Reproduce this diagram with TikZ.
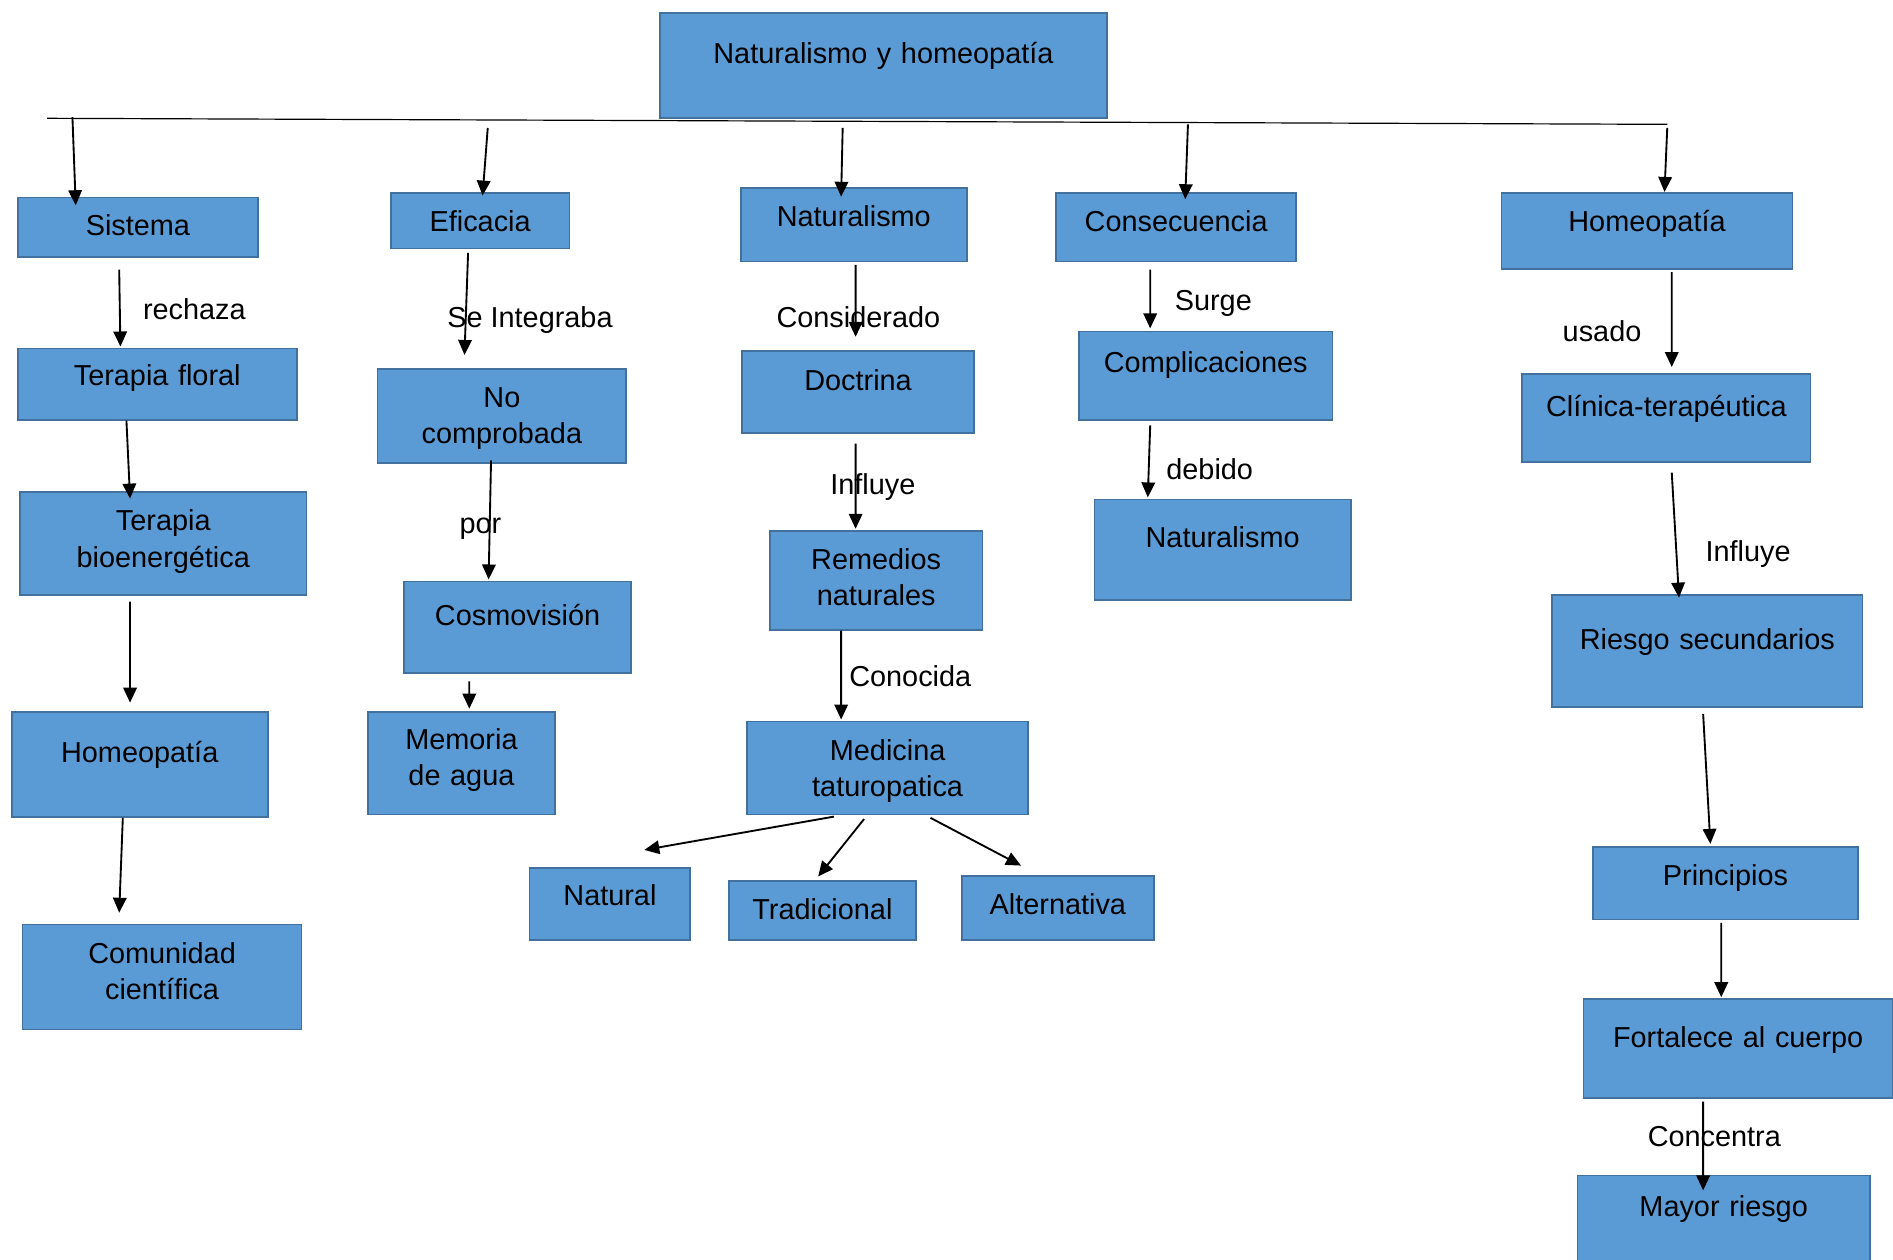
\documentclass[tikz,border=0pt]{standalone}
\usepackage{fontspec}
\setmainfont{Liberation Sans}
\usetikzlibrary{arrows.meta}
\definecolor{boxfill}{HTML}{5B9BD5}
\definecolor{boxline}{HTML}{41719C}

\begin{document}
\begin{tikzpicture}[x=0.025cm,y=-0.025cm,font={\fontsize{17}{21.3}\selectfont}]
    \tikzstyle{box}=[draw=boxline,fill=boxfill,line width=1pt,inner sep=0pt,align=center,anchor=north west]
    \tikzstyle{arr}=[line width=1.1pt,-{Triangle[length=0.31cm,width=0.28cm]}]
    \tikzstyle{lbl}=[anchor=base,inner sep=0pt]
    \useasboundingbox (0,0) rectangle (1568,1043);
    \node[box,text width=9.25cm,text height=1.05cm,text depth=1.125cm] (top) at (546,10) {Naturalismo y homeopatía};
    \node[box,text width=4.975cm,text height=0.775cm,text depth=0.45cm] (sis) at (14,163) {Sistema};
    \node[box,text width=3.7cm,text height=0.8cm,text depth=0.35cm] (efi) at (323,159) {Eficacia};
    \node[box,text width=4.675cm,text height=0.8cm,text depth=0.725cm] (natA) at (613,155) {Naturalismo};
    \node[box,text width=4.975cm,text height=0.8cm,text depth=0.625cm] (cons) at (874,159) {Consecuencia};
    \node[box,text width=6.025cm,text height=0.8cm,text depth=0.775cm] (homR) at (1243,159) {Homeopatía};
    \node[box,text width=5.775cm,text height=0.775cm,text depth=0.7cm] (tf) at (14,288) {Terapia floral};
    \node[box,text width=5.925cm,text height=0.8cm,text depth=1.325cm] (tb) at (16,407) {Terapia\\bioenergética};
    \node[box,text width=5.3cm,text height=1.05cm,text depth=1.125cm] (homL) at (9,589) {Homeopatía};
    \node[box,text width=5.775cm,text height=0.8cm,text depth=1.375cm] (com) at (18,765) {Comunidad\\científica};
    \node[box,text width=5.15cm,text height=0.8cm,text depth=1.15cm] (noc) at (312,305) {No\\comprobada};
    \node[box,text width=4.7cm,text height=0.9cm,text depth=1.0cm] (cosm) at (334,481) {Cosmovisión};
    \node[box,text width=3.875cm,text height=0.775cm,text depth=1.35cm] (mem) at (304,589) {Memoria\\de agua};
    \node[box,text width=4.8cm,text height=0.825cm,text depth=0.875cm] (doc) at (614,290) {Doctrina};
    \node[box,text width=4.4cm,text height=0.8cm,text depth=1.25cm] (rem) at (637,439) {Remedios\\naturales};
    \node[box,text width=5.825cm,text height=0.8cm,text depth=1.125cm] (med) at (618,597) {Medicina\\taturopatica};
    \node[box,text width=3.325cm,text height=0.775cm,text depth=0.725cm] (natu) at (438,718) {Natural};
    \node[box,text width=3.875cm,text height=0.8cm,text depth=0.425cm] (trad) at (603,729) {Tradicional};
    \node[box,text width=3.975cm,text height=0.8cm,text depth=0.525cm] (alt) at (796,725) {Alternativa};
    \node[box,text width=5.25cm,text height=0.85cm,text depth=0.975cm] (comp) at (893,274) {Complicaciones};
    \node[box,text width=5.3cm,text height=1.0cm,text depth=1.075cm] (natB) at (906,413) {Naturalismo};
    \node[box,text width=5.975cm,text height=0.875cm,text depth=0.95cm] (clin) at (1260,309) {Clínica-terapéutica};
    \node[box,text width=6.425cm,text height=1.125cm,text depth=1.2cm] (ries) at (1285,492) {Riesgo secundarios};
    \node[box,text width=5.475cm,text height=0.8cm,text depth=0.7cm] (prin) at (1319,701) {Principios};
    \node[box,text width=6.4cm,text height=1.0cm,text depth=1.05cm] (fort) at (1311,827) {Fortalece al cuerpo};
    \node[box,text width=6.05cm,text height=0.85cm,text depth=1.075cm] (may) at (1306,973) {Mayor riesgo};

    \node[lbl] (l1) at (161,265) {rechaza};
    \node[lbl] (l2) at (439,271) {Se Integraba};
    \node[lbl] (l3) at (398,442) {por};
    \node[lbl] (l4) at (711,271) {Considerado};
    \node[lbl] (l5) at (723,410) {Influye};
    \node[lbl] (l6) at (754,569) {Conocida};
    \node[lbl] (l7) at (1005,257) {Surge};
    \node[lbl] (l8) at (1002,397) {debido};
    \node[lbl] (l9) at (1327,283) {usado};
    \node[lbl] (l10) at (1448,465) {Influye};
    \node[lbl] (l11) at (1420,950) {Concentra};

    \coordinate (barL) at (39,98);
    \coordinate (barR) at (1381,103);
    \coordinate (b1) at (60,97);
    \coordinate (b2) at (404,106);
    \coordinate (b3) at (698,106);
    \coordinate (b4) at (984,103);
    \coordinate (b5) at (1381,106);
    \draw[line width=0.7pt] (barL) -- (barR);
    \draw[arr] (b1) -- ([shift={(-51.5,7)}]sis.north);
    \draw[arr] (b2) -- ([shift={(2,3)}]efi.north);
    \draw[arr] (b3) -- ([shift={(-10.5,8)}]natA.north);
    \draw[arr] (b4) -- ([shift={(7.5,6)}]cons.north);
    \draw[arr] (b5) -- ([shift={(14.5,0)}]homR.north);

    \draw[arr] ([shift={(-15.5,10)}]sis.south) -- ([shift={(-30.5,-1)}]tf.north);
    \draw[arr] ([shift={(-25.5,0)}]tf.south) -- ([shift={(-27.5,6)}]tb.north);
    \draw[arr] ([shift={(-27.5,5)}]tb.south) -- ([shift={(-8,-7)}]homL.north);
    \draw[arr] ([shift={(-14,0)}]homL.south) -- ([shift={(-35.5,-9)}]com.north);

    \draw[arr] ([shift={(-10,3)}]efi.south) -- ([shift={(-31,-11)}]noc.north);
    \draw[arr] ([shift={(-9,-3)}]noc.south) -- ([shift={(-24,-1)}]cosm.north);
    \draw[arr] ([shift={(-40,6)}]cosm.south) -- ([shift={(6.5,-2)}]mem.north);

    \draw[arr] ([shift={(1.5,2)}]natA.south) -- ([shift={(-2,-11)}]doc.north);
    \draw[arr] ([shift={(-2,8)}]doc.south) -- ([shift={(-17,-1)}]rem.north);
    \draw[arr] ([shift={(-29,0)}]rem.south) -- ([shift={(-38.5,-1)}]med.north);
    \draw[arr] ([shift={(-44.5,1)}]med.south) -- ([shift={(28.5,-14)}]natu.north);
    \draw[arr] ([shift={(-19.5,3)}]med.south) -- ([shift={(-3.5,-3)}]trad.north);
    \draw[arr] ([shift={(35.5,2)}]med.south) -- ([shift={(-30.5,-8)}]alt.north);

    \draw[arr] ([shift={(-21.5,6)}]cons.south) -- ([shift={(-46,-2)}]comp.north);
    \draw[arr] ([shift={(-46,4)}]comp.south) -- ([shift={(-62,-1)}]natB.north);

    \draw[arr] ([shift={(20.5,2)}]homR.south) -- ([shift={(4.5,-5)}]clin.north);
    \draw[arr] ([shift={(4.5,8)}]clin.south) -- ([shift={(-23.5,3)}]ries.north);
    \draw[arr] ([shift={(-3.5,5)}]ries.south) -- ([shift={(-12.5,-2)}]prin.north);
    \draw[arr] ([shift={(-3.5,2)}]prin.south) -- ([shift={(-14,-1)}]fort.north);
    \draw[arr] ([shift={(-29,2)}]fort.south) -- ([shift={(-17,13)}]may.north);
\end{tikzpicture}
\end{document}
